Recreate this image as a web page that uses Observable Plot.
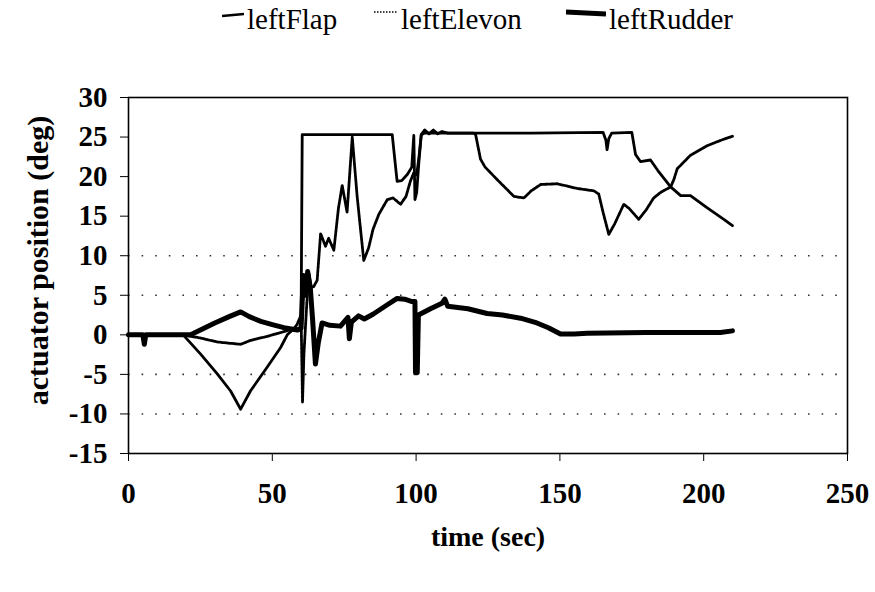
<!DOCTYPE html>
<html><head><meta charset="utf-8">
<script src="https://cdn.jsdelivr.net/npm/d3@7"></script>
<script src="https://cdn.jsdelivr.net/npm/@observablehq/plot@0.6"></script>
<style>
body{margin:0;background:#fff;font-family:"Liberation Serif",serif;color:#000;}
#legend{height:40px;position:relative;width:875px;}
#legend .item{position:absolute;top:3px;display:flex;align-items:flex-start;font-size:29px;line-height:32px;}
#legend svg{margin-right:3px;}
#chart svg g[aria-label="x-axis tick label"] text,
#chart svg g[aria-label="y-axis tick label"] text{font-weight:bold;}
</style></head><body>
<div id="legend"></div>
<div id="chart"></div>
<script>
// series names
const seriesNames = ["leftFlap", "leftElevon", "leftRudder"];
// [time (sec), actuator position (deg)]
const leftFlap = [[0,0],[5,0],[10,0],[15,0],[19,0],[25,-2.4],[30.8,-4.9],[35.5,-7.1],[39,-9.4],[42.4,-7.1],[48.2,-4.1],[52.9,-1.6],[55.2,0],[57,0.6],[60,0.9],[60.4,25.3],[75,25.3],[91.7,25.3],[92.5,22.5],[93.4,19.4],[95,19.5],[97,20.3],[98.5,21.2],[99.2,25.2],[99.6,17.1],[100.2,18],[101,22],[101.8,25.3],[103,25.9],[104.5,25.4],[106,25.9],[107.5,25.4],[109,25.7],[111,25.5],[120,25.5],[140,25.5],[165,25.6],[166,24.6],[166.4,23.4],[167,24.8],[168,25.5],[175,25.6],[176.3,22.8],[178,21.9],[181.5,22.1],[184,20.8],[188.5,18.7],[192,17.6],[195.4,17.6],[201,16.1],[207,14.6],[210,13.8]];
const leftElevon = [[0,0],[10,0],[19,0],[25,-0.4],[30.8,-0.9],[39,-1.2],[42.4,-0.7],[48.2,-0.2],[54,0.4],[57.5,0.8],[58.6,1.3],[60,2.5],[60.5,-8.5],[61,-2.4],[62,4],[62.7,7.8],[63.5,6],[64.4,6.1],[65.6,6.9],[66.8,12.8],[68.5,11.2],[69.6,12.2],[71.4,10.7],[73,16],[74.3,18.9],[76,15.5],[77.8,25],[79.5,17.5],[81.8,9.4],[83.5,11],[85,13.3],[87,15.2],[90,17.1],[92,17.3],[94.6,16.5],[96.5,17.5],[98,19.4],[99.2,20.5],[100.2,20.2],[101,22.5],[101.8,25.3],[103,25.5],[110,25.5],[120,25.5],[120.7,25.3],[122.4,22.2],[124,21.2],[128.5,19.5],[131,18.6],[134,17.5],[137.5,17.3],[140,18.2],[143.3,19],[149,19.1],[156,18.5],[161.8,18.2],[163.5,17.8],[165,15.5],[167,12.7],[169,14],[172.2,16.5],[174,16],[177.4,14.6],[180,15.8],[182.6,17.3],[185,18],[188.5,18.7],[189.6,19.6],[190.8,21],[195.4,22.7],[201.2,23.9],[206,24.6],[210,25.1]];
const leftRudder = [[0,0],[5,0],[5.5,-1.2],[6,0],[10,0],[15,0],[21.6,0],[25,0.6],[30,1.5],[35,2.3],[39,2.9],[42,2.3],[46,1.7],[50,1.3],[54,0.9],[58.7,0.6],[60,0.8],[60.8,7.5],[61.5,5],[62.3,8],[63.2,6],[64,2],[65,-3.7],[66,-1],[67.3,1.5],[70,1.2],[73.7,1.1],[76.3,2.2],[76.8,-0.5],[77.5,1.6],[80,2.4],[82,2],[85,2.6],[90,3.8],[93.4,4.6],[96,4.5],[98.6,4.2],[99.6,4.2],[99.8,-4.8],[100.4,-4.8],[100.8,2.5],[105,3.3],[109,4],[110,4.5],[111,3.6],[118,3.3],[124.7,2.7],[130,2.5],[136.3,2.1],[142,1.5],[146,0.9],[150.2,0.1],[155,0.1],[159.5,0.2],[180,0.3],[205.8,0.3],[210,0.5]];
const xTicks = [0, 50, 100, 150, 200, 250];
const yTicks = [-15, -10, -5, 0, 5, 10, 15, 20, 25, 30];
const gridY = [-10, -5, 5, 10];

const styles = {
  leftFlap: {strokeWidth: 2.8, dash: null},
  leftElevon: {strokeWidth: 2.8, dash: "3,1"},
  leftRudder: {strokeWidth: 5, dash: null}
};
const rows = (name, arr) => arr.map(([t, v]) => ({series: name, t, v}));
const data = {leftFlap: rows("leftFlap", leftFlap), leftElevon: rows("leftElevon", leftElevon), leftRudder: rows("leftRudder", leftRudder)};

// legend
const legend = document.getElementById("legend");
const lx = {leftFlap: 222, leftElevon: 374, leftRudder: 566};
const swatch = {
  leftFlap: '<svg width="22" height="30"><line x1="0" y1="13" x2="22" y2="11" stroke="#000" stroke-width="2.5"/></svg>',
  leftElevon: '<svg width="24" height="30"><line x1="0" y1="9" x2="24" y2="9" stroke="#000" stroke-width="1.5" stroke-dasharray="1.5,1.5"/></svg>',
  leftRudder: '<svg width="40" height="30"><line x1="0" y1="9" x2="40" y2="11" stroke="#000" stroke-width="5"/></svg>'
};
for (const s of seriesNames) {
  const d = document.createElement("div");
  d.className = "item";
  d.style.left = lx[s] + "px";
  d.innerHTML = swatch[s] + "<span>" + s + "</span>";
  legend.appendChild(d);
}

const plot = Plot.plot({
  width: 875, height: 552,
  marginLeft: 128, marginRight: 28, marginTop: 57, marginBottom: 139,
  style: {fontFamily: "Liberation Serif, serif", fontSize: "29px", color: "#000", background: "#fff", overflow: "visible"},
  x: {domain: [0, 250]},
  y: {domain: [-15, 30]},
  marks: [
    Plot.ruleY(gridY, {stroke: "#000", strokeWidth: 1.6, strokeDasharray: "1.6,12", strokeOpacity: 0.8}),
    Plot.frame({stroke: "#000", strokeWidth: 1.6}),
    Plot.axisX({ticks: xTicks, tickSize: 8, tickPadding: 21, tickFormat: d => String(d), label: null, fontSize: 29, fontWeight: "bold"}),
    Plot.axisY({ticks: yTicks, tickSize: 8, tickPadding: 13, tickFormat: d => String(d), label: null, fontSize: 29, fontWeight: "bold"}),
    ...seriesNames.map(s => Plot.line(data[s], {x: "t", y: "v", stroke: "#000", strokeWidth: styles[s].strokeWidth, strokeDasharray: styles[s].dash, strokeLinejoin: "round", strokeLinecap: "round"})),
    Plot.text(["time (sec)"], {frameAnchor: "bottom", dy: 92, fontSize: 28, fontWeight: "bold", textAnchor: "middle"}),
    Plot.text(["actuator position (deg)"], {frameAnchor: "left", dx: -90, dy: -15, rotate: -90, fontSize: 30, fontWeight: "bold", textAnchor: "middle"})
  ]
});
document.getElementById("chart").appendChild(plot);
</script>
</body></html>
